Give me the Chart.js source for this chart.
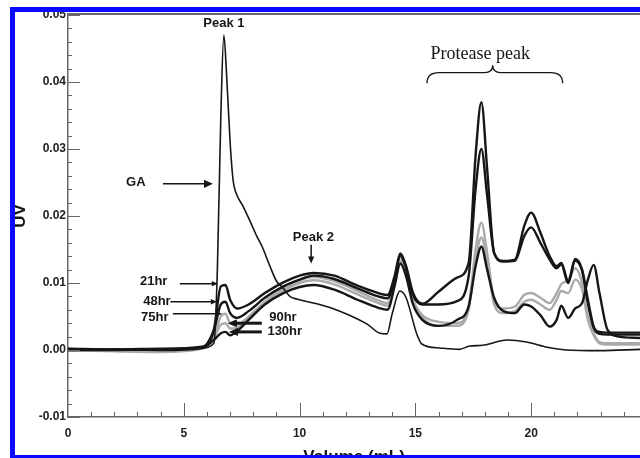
<!DOCTYPE html>
<html>
<head>
<meta charset="utf-8">
<script src="https://cdn.jsdelivr.net/npm/chart.js@4"></script>
<style>
  html, body { margin: 0; padding: 0; background: #fff; }
  #wrap { width: 640px; height: 458px; }
</style>
</head>
<body>
<div id="wrap"><canvas id="chart" width="640" height="458"></canvas></div>
<script>
// elution volume (mL) shared by the five time samples
const sampleVolume = [0, 2, 4, 5.8, 6.3, 6.6, 6.8, 7.0, 7.3, 7.8, 8.5, 9.3, 10.0, 10.6, 11.5,
  12.5, 13.4, 13.8, 14.1, 14.35, 14.6, 14.9, 15.3, 16.0, 16.8, 17.3, 17.6, 17.85, 18.1, 18.4,
  18.8, 19.3, 19.7, 20.0, 20.4, 20.8, 21.1, 21.3, 21.6, 21.9, 22.2, 22.45, 22.7, 22.95, 23.3, 23.8, 24.7];

const uv21 = [0.0002, 0.0001, 0.0002, 0.0005, 0.003, 0.0095, 0.0097, 0.0075, 0.0062, 0.0068,
  0.0085, 0.0101, 0.0111, 0.0115, 0.0111, 0.0096, 0.0085, 0.0082, 0.011, 0.0144,
  0.0125, 0.0085, 0.0069, 0.0087, 0.0108, 0.013, 0.029, 0.037, 0.027, 0.0145,
  0.0133, 0.0135, 0.0185, 0.0205, 0.0175, 0.014, 0.0125, 0.013, 0.0103, 0.0136,
  0.012, 0.0075, 0.0035, 0.0027, 0.0026, 0.0026, 0.0026];
const uv48 = [0.0, 0.0, 0.0001, 0.0004, 0.003, 0.0068, 0.0072, 0.0055, 0.0048, 0.0058,
  0.0078, 0.0095, 0.0105, 0.0111, 0.0106, 0.0092, 0.008, 0.0077, 0.0105, 0.0141,
  0.0122, 0.0082, 0.0068, 0.0068, 0.0073, 0.011, 0.024, 0.030, 0.023, 0.0145,
  0.0132, 0.0133, 0.017, 0.0183, 0.016, 0.0135, 0.0122, 0.0128, 0.0100, 0.0133,
  0.0118, 0.007, 0.0033, 0.0024, 0.0023, 0.0023, 0.0023];
const uv75 = [0.0, -0.0002, -0.0003, 0.0002, 0.002, 0.005, 0.0054, 0.004, 0.0038, 0.005,
  0.0072, 0.0092, 0.0104, 0.0109, 0.0103, 0.0088, 0.0074, 0.007, 0.01, 0.0138,
  0.0118, 0.0075, 0.0052, 0.0042, 0.004, 0.0065, 0.015, 0.019, 0.0145, 0.0075,
  0.0062, 0.0065, 0.0082, 0.0085, 0.0078, 0.007, 0.0085, 0.0098, 0.0105, 0.0122,
  0.01, 0.005, 0.0025, 0.0012, 0.001, 0.001, 0.001];
const uv90 = [0.0, 0.0, -0.0002, 0.0002, 0.0018, 0.0038, 0.004, 0.0032, 0.0033, 0.0047,
  0.007, 0.0089, 0.01, 0.0104, 0.0098, 0.0083, 0.007, 0.0066, 0.0098, 0.0133,
  0.0114, 0.0072, 0.0048, 0.0036, 0.0036, 0.006, 0.0135, 0.0168, 0.013, 0.0068,
  0.0055, 0.0058, 0.0072, 0.0075, 0.0068, 0.006, 0.0075, 0.0088, 0.0085, 0.0105,
  0.009, 0.0045, 0.0022, 0.001, 0.0008, 0.0008, 0.0008];
const uv130 = [0.0, 0.0001, 0.0, 0.0003, 0.0015, 0.0025, 0.0027, 0.0022, 0.0028, 0.0045,
  0.0068, 0.0085, 0.0094, 0.0097, 0.009, 0.0075, 0.0063, 0.006, 0.0095, 0.0129,
  0.011, 0.0068, 0.0045, 0.0036, 0.0045, 0.0065, 0.0125, 0.0154, 0.012, 0.0078,
  0.0058, 0.0055, 0.0068, 0.0065, 0.0052, 0.0035, 0.0045, 0.0066, 0.0048, 0.0062,
  0.007, 0.0105, 0.0127, 0.0085, 0.003, 0.002, 0.0018];

// native GA trace
const gaVolume = [0, 2, 4, 5.8, 6.3, 6.45, 6.6, 6.73, 6.85, 7.0, 7.13, 7.25, 7.55, 7.85, 8.15,
  8.4, 8.72, 9.0, 9.28, 9.58, 9.88, 10.75, 11.74, 12.9, 13.47, 13.77, 14.0, 14.33, 14.6, 15.06,
  15.28, 16.05, 16.9, 17.35, 17.9, 18.95, 19.8, 20.7, 21.5, 22.96, 24.7];
const gaUV = [0.0002, 0, 0.0001, 0.0003, 0.001, 0.012, 0.035, 0.047, 0.041, 0.031,
  0.0253, 0.0235, 0.0215, 0.0193, 0.017, 0.0153, 0.0125, 0.0103, 0.0093, 0.008,
  0.0076, 0.0069, 0.0058, 0.0039, 0.0025, 0.0024, 0.0054, 0.0088, 0.0078, 0.0024,
  0.0009, 0.0003, 0.0001, 0.0006, 0.0007, 0.0015, 0.0012, 0.0004, 0, -0.0001, 0.0001];

const timeLabels = ['21hr', '48hr', '75hr', '90hr', '130hr'];
const xTicks = [0, 5, 10, 15, 20];
const yTicks = [-0.01, 0, 0.01, 0.02, 0.03, 0.04, 0.05];

const BLACK = '#161616';
const GREY = '#aaaaaa';
const labelFont = 'bold 13px "Liberation Sans", Arial, sans-serif';

function pts(xs, ys) {
    return xs.map((v, i) => ({ x: v, y: ys[i] }));
}

function drawArrow(ctx, x1, y1, x2, y2, width, head) {
    const ang = Math.atan2(y2 - y1, x2 - x1);
    ctx.lineWidth = width;
    ctx.beginPath();
    ctx.moveTo(x1, y1);
    ctx.lineTo(x2 - Math.cos(ang) * head * 0.8, y2 - Math.sin(ang) * head * 0.8);
    ctx.stroke();
    ctx.beginPath();
    ctx.moveTo(x2, y2);
    ctx.lineTo(x2 - Math.cos(ang) * head - Math.sin(ang) * head * 0.45, y2 - Math.sin(ang) * head + Math.cos(ang) * head * 0.45);
    ctx.lineTo(x2 - Math.cos(ang) * head + Math.sin(ang) * head * 0.45, y2 - Math.sin(ang) * head - Math.cos(ang) * head * 0.45);
    ctx.closePath();
    ctx.fill();
}

// inward ticks, frame, axis titles and the text notes
const notesPlugin = {
    id: 'notes',
    afterDraw(chart) {
        const { ctx, chartArea: a, scales: { x, y } } = chart;
        const X = v => x.getPixelForValue(v);
        const Y = v => y.getPixelForValue(v);
        ctx.save();

        ctx.strokeStyle = '#666';
        ctx.lineWidth = 1;
        ctx.beginPath();
        for (let i = 1; i <= 24; i++) {
            const px = Math.round(X(i)) + 0.5;
            ctx.moveTo(px, a.bottom);
            ctx.lineTo(px, a.bottom - (i % 5 === 0 ? 14 : 5));
        }
        for (let i = -5; i <= 25; i++) {
            const py = Math.round(Y(i * 0.002)) + 0.5;
            ctx.moveTo(a.left, py);
            ctx.lineTo(a.left + (i % 5 === 0 ? 12 : 4), py);
        }
        ctx.stroke();
        ctx.fillStyle = '#666';
        ctx.fillRect(a.left - 1, a.top - 2, a.right - a.left + 1, 2);

        // text notes
        ctx.fillStyle = BLACK;
        ctx.strokeStyle = BLACK;
        ctx.font = labelFont;
        ctx.textAlign = 'center';
        ctx.textBaseline = 'middle';
        ctx.fillText('Peak 1', X(6.73), Y(0.0488));
        ctx.fillText('GA', X(2.93), Y(0.025));
        drawArrow(ctx, X(4.1), Y(0.0248), X(6.26), Y(0.0248), 1.5, 9);
        ctx.fillText(timeLabels[0], X(3.7), Y(0.0102));
        drawArrow(ctx, X(4.83), Y(0.0099), X(6.47), Y(0.0099), 1.5, 6);
        ctx.fillText(timeLabels[1], X(3.84), Y(0.0073));
        drawArrow(ctx, X(4.42), Y(0.0072), X(6.43), Y(0.0072), 1.5, 6);
        ctx.fillText(timeLabels[2], X(3.75), Y(0.0049));
        drawArrow(ctx, X(4.53), Y(0.0054), X(6.65), Y(0.0054), 1.5, 6);
        ctx.fillText(timeLabels[3], X(9.28), Y(0.0049));
        drawArrow(ctx, X(8.37), Y(0.004), X(6.9), Y(0.004), 3, 9);
        ctx.fillText(timeLabels[4], X(9.36), Y(0.0028));
        drawArrow(ctx, X(8.37), Y(0.0027), X(6.95), Y(0.0027), 3, 9);
        ctx.fillText('Peak 2', X(10.6), Y(0.0168));
        drawArrow(ctx, X(10.5), Y(0.0157), X(10.5), Y(0.0129), 1.5, 7);

        ctx.font = '18px "Liberation Serif", "Times New Roman", serif';
        ctx.fillText('Protease peak', X(17.8), Y(0.0441));
        // curly brace under the note
        const bl = X(15.5), br = X(21.36), bm = X(18.34);
        const yEnd = Y(0.0398), yMid = Y(0.0414), yTip = Y(0.0425);
        ctx.lineWidth = 1.3;
        ctx.beginPath();
        ctx.moveTo(bl, yEnd);
        ctx.quadraticCurveTo(bl, yMid, bl + 12, yMid);
        ctx.lineTo(bm - 8, yMid);
        ctx.quadraticCurveTo(bm, yMid, bm, yTip);
        ctx.quadraticCurveTo(bm, yMid, bm + 8, yMid);
        ctx.lineTo(br - 12, yMid);
        ctx.quadraticCurveTo(br, yMid, br, yEnd);
        ctx.stroke();

        // axis titles
        ctx.font = 'bold 17px "Liberation Sans", Arial, sans-serif';
        ctx.fillText('Volume (mL)', (a.left + a.right) / 2, 457);
        ctx.translate(20, (a.top + a.bottom) / 2);
        ctx.rotate(-Math.PI / 2);
        ctx.fillText('UV', 0, 0);
        ctx.setTransform(1, 0, 0, 1, 0, 0);

        // blue frame of the figure
        ctx.fillStyle = '#0a0aff';
        ctx.fillRect(10, 7, 630, 5);
        ctx.fillRect(10, 7, 5, 451);
        ctx.fillRect(10, 455, 630, 3);
        ctx.restore();
    }
};

const series = [
    { label: 'GA', data: pts(gaVolume, gaUV), color: BLACK, width: 1.6, order: 0 },
    { label: timeLabels[0], data: pts(sampleVolume, uv21), color: BLACK, width: 2.4, order: 1 },
    { label: timeLabels[1], data: pts(sampleVolume, uv48), color: BLACK, width: 2.4, order: 2 },
    { label: timeLabels[4], data: pts(sampleVolume, uv130), color: BLACK, width: 2.4, order: 3 },
    { label: timeLabels[2], data: pts(sampleVolume, uv75), color: GREY, width: 2.4, order: 4 },
    { label: timeLabels[3], data: pts(sampleVolume, uv90), color: GREY, width: 2.4, order: 5 }
];

new Chart(document.getElementById('chart'), {
    type: 'line',
    data: {
        datasets: series.map(s => ({
            label: s.label,
            data: s.data,
            borderColor: s.color,
            borderWidth: s.width,
            pointRadius: 0,
            cubicInterpolationMode: 'monotone',
            fill: false,
            order: s.order
        }))
    },
    options: {
        responsive: false,
        animation: false,
        layout: { padding: { top: 15, left: 0, right: 0, bottom: 0 } },
        plugins: { legend: { display: false }, tooltip: { enabled: false } },
        scales: {
            x: {
                type: 'linear',
                min: 0,
                max: 24.7,
                grid: { display: false, drawTicks: false },
                border: { display: true, color: '#666', width: 1.5 },
                afterBuildTicks: scale => { scale.ticks = xTicks.map(v => ({ value: v })); },
                afterFit: scale => { scale.height = 41; },
                ticks: {
                    padding: 9,
                    color: '#222',
                    font: { family: '"Liberation Sans", Arial, sans-serif', size: 12, weight: 'bold' }
                }
            },
            y: {
                min: -0.01,
                max: 0.05,
                grid: { display: false, drawTicks: false },
                border: { display: true, color: '#666', width: 1.5 },
                afterBuildTicks: scale => { scale.ticks = yTicks.map(v => ({ value: v })); },
                afterFit: scale => { scale.width = 68; },
                ticks: {
                    padding: 2,
                    color: '#222',
                    font: { family: '"Liberation Sans", Arial, sans-serif', size: 12, weight: 'bold' },
                    callback: v => (Math.round(v * 100) / 100).toFixed(2)
                }
            }
        }
    },
    plugins: [notesPlugin]
});
</script>
</body>
</html>
